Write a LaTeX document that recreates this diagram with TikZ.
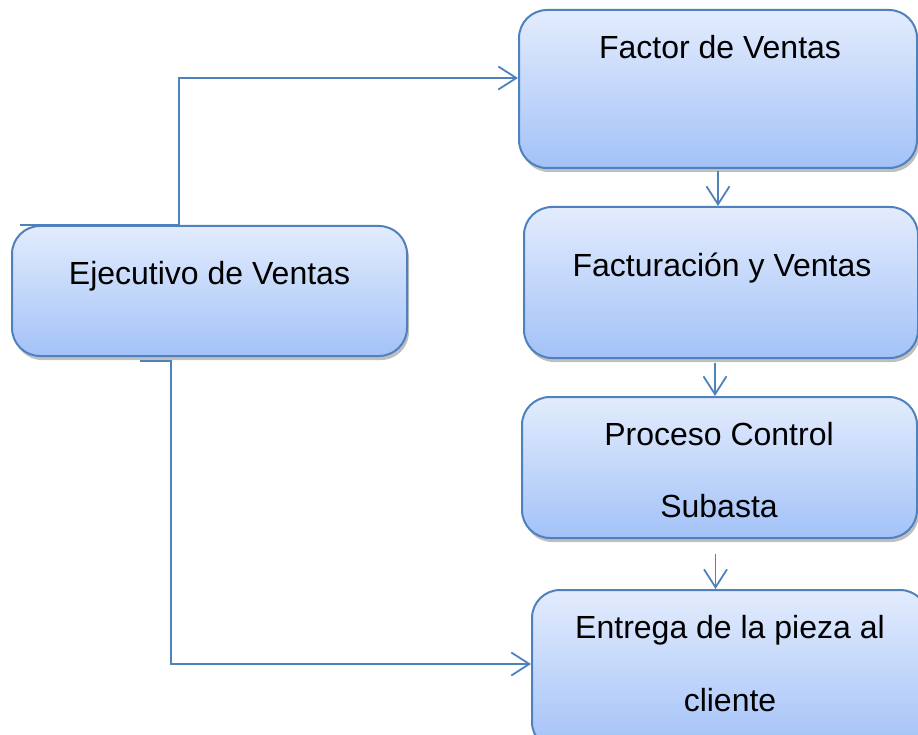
\documentclass[tikz,border=0pt]{standalone}
\usepackage{fontspec}
\setmainfont{Liberation Sans}
\usetikzlibrary{arrows.meta,shadows}
\definecolor{boxline}{HTML}{4F81BD}
\definecolor{boxtop}{HTML}{E3ECFD}
\definecolor{boxbot}{HTML}{A3C2F8}
\tikzset{
  procbox/.style={draw=boxline, line width=2pt, rounded corners=28pt,
    top color=boxtop, bottom color=boxbot, inner sep=0pt,
    drop shadow={shadow xshift=2pt, shadow yshift=-4pt, fill=black, opacity=.25}},
  boxtext/.style={anchor=base, inner sep=0pt, font=\fontsize{32}{38}\selectfont},
  link/.style={draw=boxline, line width=1.8pt,
    -{Straight Barb[length=18pt,width=23pt,line width=1.8pt]}},
}
\begin{document}
\begin{tikzpicture}[x=1pt, y=-1pt]
    \useasboundingbox (0,0) rectangle (918,735);
    \clip (0,0) rectangle (918,735);
    % boxes
    \node[procbox, minimum width=398pt, minimum height=158pt] (fv) at (718,89) {};
    \node[procbox, minimum width=394pt, minimum height=151pt] (fac) at (721,282.5) {};
    \node[procbox, minimum width=395pt, minimum height=141pt] (pcs) at (719.5,467.5) {};
    \node[procbox, minimum width=396pt, minimum height=160pt] (ent) at (730,670) {};
    \node[procbox, minimum width=395pt, minimum height=130pt] (ej) at (209.5,291) {};
    % texts
    \node[boxtext] (fv-txt) at (720,59) {Factor de Ventas};
    \node[boxtext] (fac-txt) at (722,277) {Facturación y Ventas};
    \node[boxtext] (ej-txt) at (209.5,284) {Ejecutivo de Ventas};
    \node[boxtext] (pcs-txt1) at (719,445) {Proceso Control};
    \node[boxtext] (pcs-txt2) at (719,517) {Subasta};
    \node[boxtext] (ent-txt1) at (730,638) {Entrega de la pieza al};
    \node[boxtext] (ent-txt2) at (730,711) {cliente};
    % connectors
    \coordinate (ej-top) at (20,225);
    \coordinate (ej-bend) at (179,78);
    \draw[link] (ej-top) -| (ej-bend) -- (ej-bend -| fv.west);
    \coordinate (ej-bot) at (140,361);
    \coordinate (ent-bend) at (171,664);
    \draw[link] (ej-bot) -| (ent-bend) -- (ent-bend -| ent.west);
    \draw[link] ([yshift=-2pt]fv.south) -- (fv.south |- fac.north);
    \draw[link] ([xshift=-6pt, yshift=-4pt]fac.south) -- ([xshift=-6pt]fac.south |- pcs.north);
    \draw[link] ([xshift=-4pt, yshift=-15pt]pcs.south) -- ([xshift=-4pt]pcs.south |- ent.north);
  \end{tikzpicture}
\end{document}
